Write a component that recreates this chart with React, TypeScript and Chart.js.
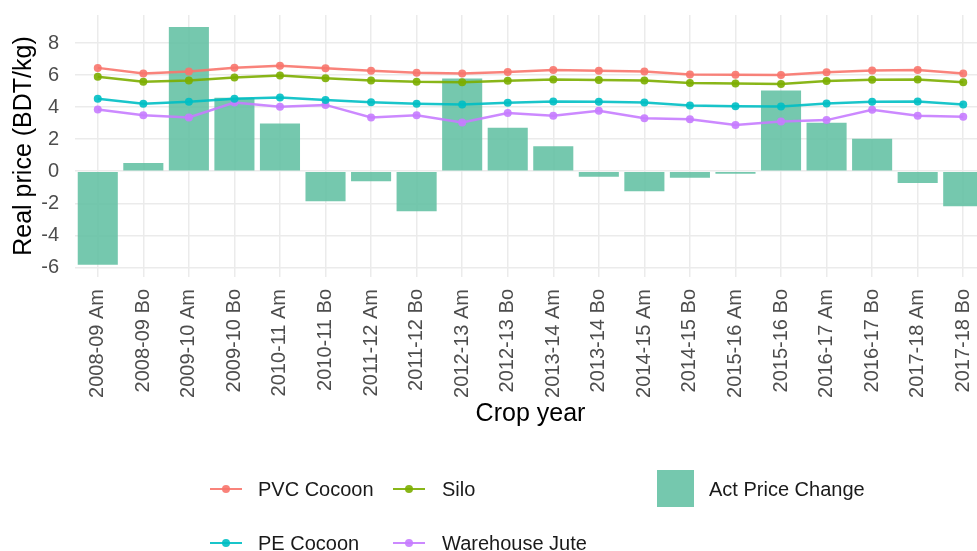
import React, { useEffect, useRef } from "react";
import { Chart, registerables } from "chart.js";

Chart.register(...registerables);

const categories = [
  "2008-09 Am", "2008-09 Bo", "2009-10 Am", "2009-10 Bo", "2010-11 Am",
  "2010-11 Bo", "2011-12 Am", "2011-12 Bo", "2012-13 Am", "2012-13 Bo",
  "2013-14 Am", "2013-14 Bo", "2014-15 Am", "2014-15 Bo", "2015-16 Am",
  "2015-16 Bo", "2016-17 Am", "2016-17 Bo", "2017-18 Am", "2017-18 Bo",
];

const actPriceChange = [-5.83, 0.52, 9.0, 4.58, 2.98, -1.88, -0.63, -2.5, 5.79, 2.71, 1.56, -0.35, -1.25, -0.4, -0.15, 5.04, 3.02, 2.02, -0.73, -2.19];
const pvcCocoon = [6.45, 6.1, 6.22, 6.46, 6.58, 6.42, 6.27, 6.15, 6.1, 6.2, 6.31, 6.27, 6.23, 6.03, 6.02, 6.0, 6.17, 6.29, 6.31, 6.1];
const silo = [5.9, 5.58, 5.67, 5.85, 5.98, 5.8, 5.67, 5.58, 5.56, 5.65, 5.73, 5.69, 5.66, 5.5, 5.48, 5.44, 5.63, 5.71, 5.73, 5.56];
const peCocoon = [4.52, 4.21, 4.33, 4.52, 4.6, 4.44, 4.31, 4.21, 4.17, 4.27, 4.35, 4.33, 4.29, 4.1, 4.06, 4.04, 4.23, 4.33, 4.35, 4.17];
const warehouseJute = [3.85, 3.5, 3.35, 4.29, 4.02, 4.14, 3.35, 3.5, 3.04, 3.63, 3.46, 3.77, 3.3, 3.25, 2.88, 3.1, 3.19, 3.83, 3.46, 3.4];

const yTicks = [-6, -4, -2, 0, 2, 4, 6, 8];

const lineSeries = [
  { label: "PVC Cocoon", data: pvcCocoon, color: "rgba(248,118,109,0.9)" },
  { label: "Silo", data: silo, color: "rgba(124,174,0,0.9)" },
  { label: "PE Cocoon", data: peCocoon, color: "rgba(0,191,196,0.9)" },
  { label: "Warehouse Jute", data: warehouseJute, color: "rgba(199,124,255,0.9)" },
];
const barColor = "rgba(102,194,165,0.9)";

const FONT = "'Liberation Sans', Arial, sans-serif";

function LineIcon({ x, y, color }: { x: number; y: number; color: string }) {
  return (
    <div style={{ position: "absolute", left: x, top: y - 16, width: 32, height: 32 }}>
      <div style={{ position: "absolute", left: 0, top: 15, width: 32, height: 2, background: color }} />
      <div style={{ position: "absolute", left: 12, top: 12, width: 8, height: 8, borderRadius: 4, background: color }} />
    </div>
  );
}

function LegendText({ x, y, text }: { x: number; y: number; text: string }) {
  return (
    <div style={{ position: "absolute", left: x, top: y - 12, height: 24, lineHeight: "24px", fontSize: 20, fontFamily: FONT, color: "#1a1a1a", whiteSpace: "nowrap" }}>
      {text}
    </div>
  );
}

export default function App() {
  const ref = useRef<HTMLCanvasElement | null>(null);

  useEffect(() => {
    if (!ref.current) return;
    const chart = new Chart(ref.current, {
      type: "bar",
      data: {
        labels: categories,
        datasets: [
          ...lineSeries.map((s) => ({
            type: "line" as const,
            label: s.label,
            data: s.data,
            borderColor: s.color,
            backgroundColor: s.color,
            borderWidth: 2.5,
            pointRadius: 4,
            pointBorderWidth: 0,
            pointBackgroundColor: s.color,
            tension: 0,
            order: 1,
          })),
          {
            type: "bar" as const,
            label: "Act Price Change",
            data: actPriceChange,
            backgroundColor: barColor,
            borderWidth: 0,
            barPercentage: 0.88,
            categoryPercentage: 1,
            order: 2,
          },
        ],
      },
      options: {
        responsive: false,
        animation: false,
        layout: { padding: { top: 15, right: 14, bottom: 122, left: 0 } },
        plugins: { legend: { display: false }, tooltip: { enabled: false } },
        scales: {
          x: {
            offset: true,
            grid: { offset: false, color: "#ebebeb", lineWidth: 1.5, drawTicks: false },
            border: { display: false },
            ticks: {
              minRotation: 90,
              maxRotation: 90,
              autoSkip: false,
              padding: 12,
              color: "#4d4d4d",
              font: { family: FONT, size: 20 },
            },
            title: {
              display: true,
              text: "Crop year",
              color: "#000",
              font: { family: FONT, size: 25 },
              padding: { top: 0, bottom: 0 },
            },
            afterFit: (s: any) => {
              s.height = 152;
              s.paddingLeft = 0;
              s.paddingRight = 0;
            },
          },
          y: {
            min: -6.6,
            max: 9.75,
            grid: { color: "#ebebeb", lineWidth: 1.5, drawTicks: false },
            border: { display: false },
            afterBuildTicks: (s: any) => {
              s.ticks = yTicks.map((v) => ({ value: v }));
            },
            ticks: {
              padding: 16,
              color: "#4d4d4d",
              font: { family: FONT, size: 20 },
            },
            title: {
              display: true,
              text: "Real price (BDT/kg)",
              color: "#000",
              font: { family: FONT, size: 25 },
              padding: { top: 9, bottom: 0 },
            },
            afterFit: (s: any) => {
              s.width = 75;
              s.paddingTop = 0;
              s.paddingBottom = 0;
            },
          },
        },
      },
    });
    return () => chart.destroy();
  }, []);

  return (
    <div style={{ position: "fixed", left: 0, top: 0, width: 977, height: 551, overflow: "hidden", background: "#fff" }}>
      <canvas ref={ref} width={1000} height={551} style={{ position: "absolute", left: 0, top: 0, width: 1000, height: 551 }} />
      <LineIcon x={210} y={489} color={lineSeries[0].color} />
      <LegendText x={258} y={489} text={lineSeries[0].label} />
      <LineIcon x={393} y={489} color={lineSeries[1].color} />
      <LegendText x={442} y={489} text={lineSeries[1].label} />
      <LineIcon x={210} y={543} color={lineSeries[2].color} />
      <LegendText x={258} y={543} text={lineSeries[2].label} />
      <LineIcon x={393} y={543} color={lineSeries[3].color} />
      <LegendText x={442} y={543} text={lineSeries[3].label} />
      <div style={{ position: "absolute", left: 657, top: 470, width: 37, height: 37, background: barColor }} />
      <LegendText x={709} y={489} text="Act Price Change" />
    </div>
  );
}
